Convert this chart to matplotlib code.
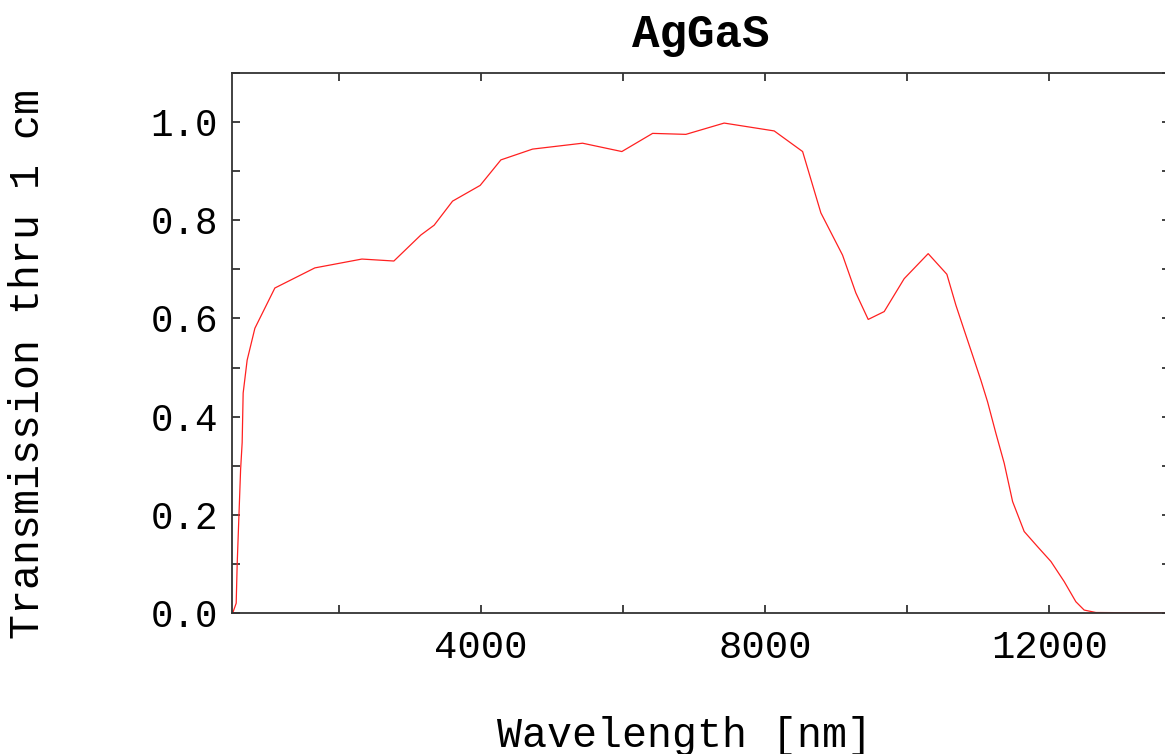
import matplotlib
matplotlib.use("Agg")
import matplotlib.pyplot as plt
from matplotlib.ticker import MultipleLocator

# transmission curve
wavelength = [510, 559, 573, 597, 621, 643, 657, 713, 822, 1103, 1666, 2328,
              2778, 3158, 3345, 3604, 3992, 4284, 4730, 5433, 5986, 6419, 6887,
              7426, 8130, 8530, 8787, 9092, 9279, 9453, 9678, 9959, 10297,
              10560, 10687, 10804, 10922, 11039, 11133, 11250, 11367, 11485,
              11648, 11837, 12024, 12211, 12375, 12492, 12657, 13700]
transmission = [0.0, 0.02, 0.10, 0.196, 0.292, 0.347, 0.448, 0.515, 0.58, 0.662,
                0.703, 0.721, 0.717, 0.77, 0.79, 0.839, 0.871, 0.923, 0.945,
                0.957, 0.94, 0.977, 0.975, 0.998, 0.982, 0.94, 0.815, 0.729,
                0.652, 0.598, 0.614, 0.681, 0.732, 0.69, 0.627, 0.576, 0.525,
                0.474, 0.43, 0.366, 0.305, 0.227, 0.166, 0.135, 0.105, 0.064,
                0.023, 0.006, 0.001, 0.0]

mono = "Liberation Mono"

fig = plt.figure(figsize=(11.65, 7.54), dpi=100)
W, H = 1165, 754
# right spine sits just past the image edge, as in the reference
ax = fig.add_axes([232 / W, 1 - 613 / H, (1170 - 232) / W, (613 - 73) / H])

ax.plot(wavelength, transmission, color="#ff2020", lw=0.9)

ax.set_xlim(500, 13700)
ax.set_ylim(0, 1.1)
ax.xaxis.set_major_locator(MultipleLocator(4000))
ax.xaxis.set_minor_locator(MultipleLocator(2000))
ax.yaxis.set_major_locator(MultipleLocator(0.2))
ax.yaxis.set_minor_locator(MultipleLocator(0.1))
ax.yaxis.set_major_formatter(lambda v, p: f"{v:.1f}")

for s in ax.spines.values():
    s.set_color("#333333")
    s.set_linewidth(1.3)

ax.tick_params(which="both", direction="in", top=True, right=True,
               color="#333333", width=1.3)
ax.tick_params(which="major", length=6)
ax.tick_params(which="minor", length=5.5)
ax.tick_params(axis="y", pad=10, labelsize=27)
ax.tick_params(axis="x", pad=12, labelsize=28)
for lab in ax.get_xticklabels() + ax.get_yticklabels():
    lab.set_family(mono)

ax.set_title("AgGaS", fontfamily=mono, fontweight="bold", fontsize=33, pad=19)
ax.set_xlabel("Wavelength [nm]", fontfamily=mono, fontsize=30)
ax.set_ylabel("Transmission thru 1 cm", fontfamily=mono, fontsize=30)
ax.xaxis.set_label_coords(0.482, -0.19)
ax.yaxis.set_label_coords(-0.196, 0.461)

fig.savefig("out.png", dpi=100)
